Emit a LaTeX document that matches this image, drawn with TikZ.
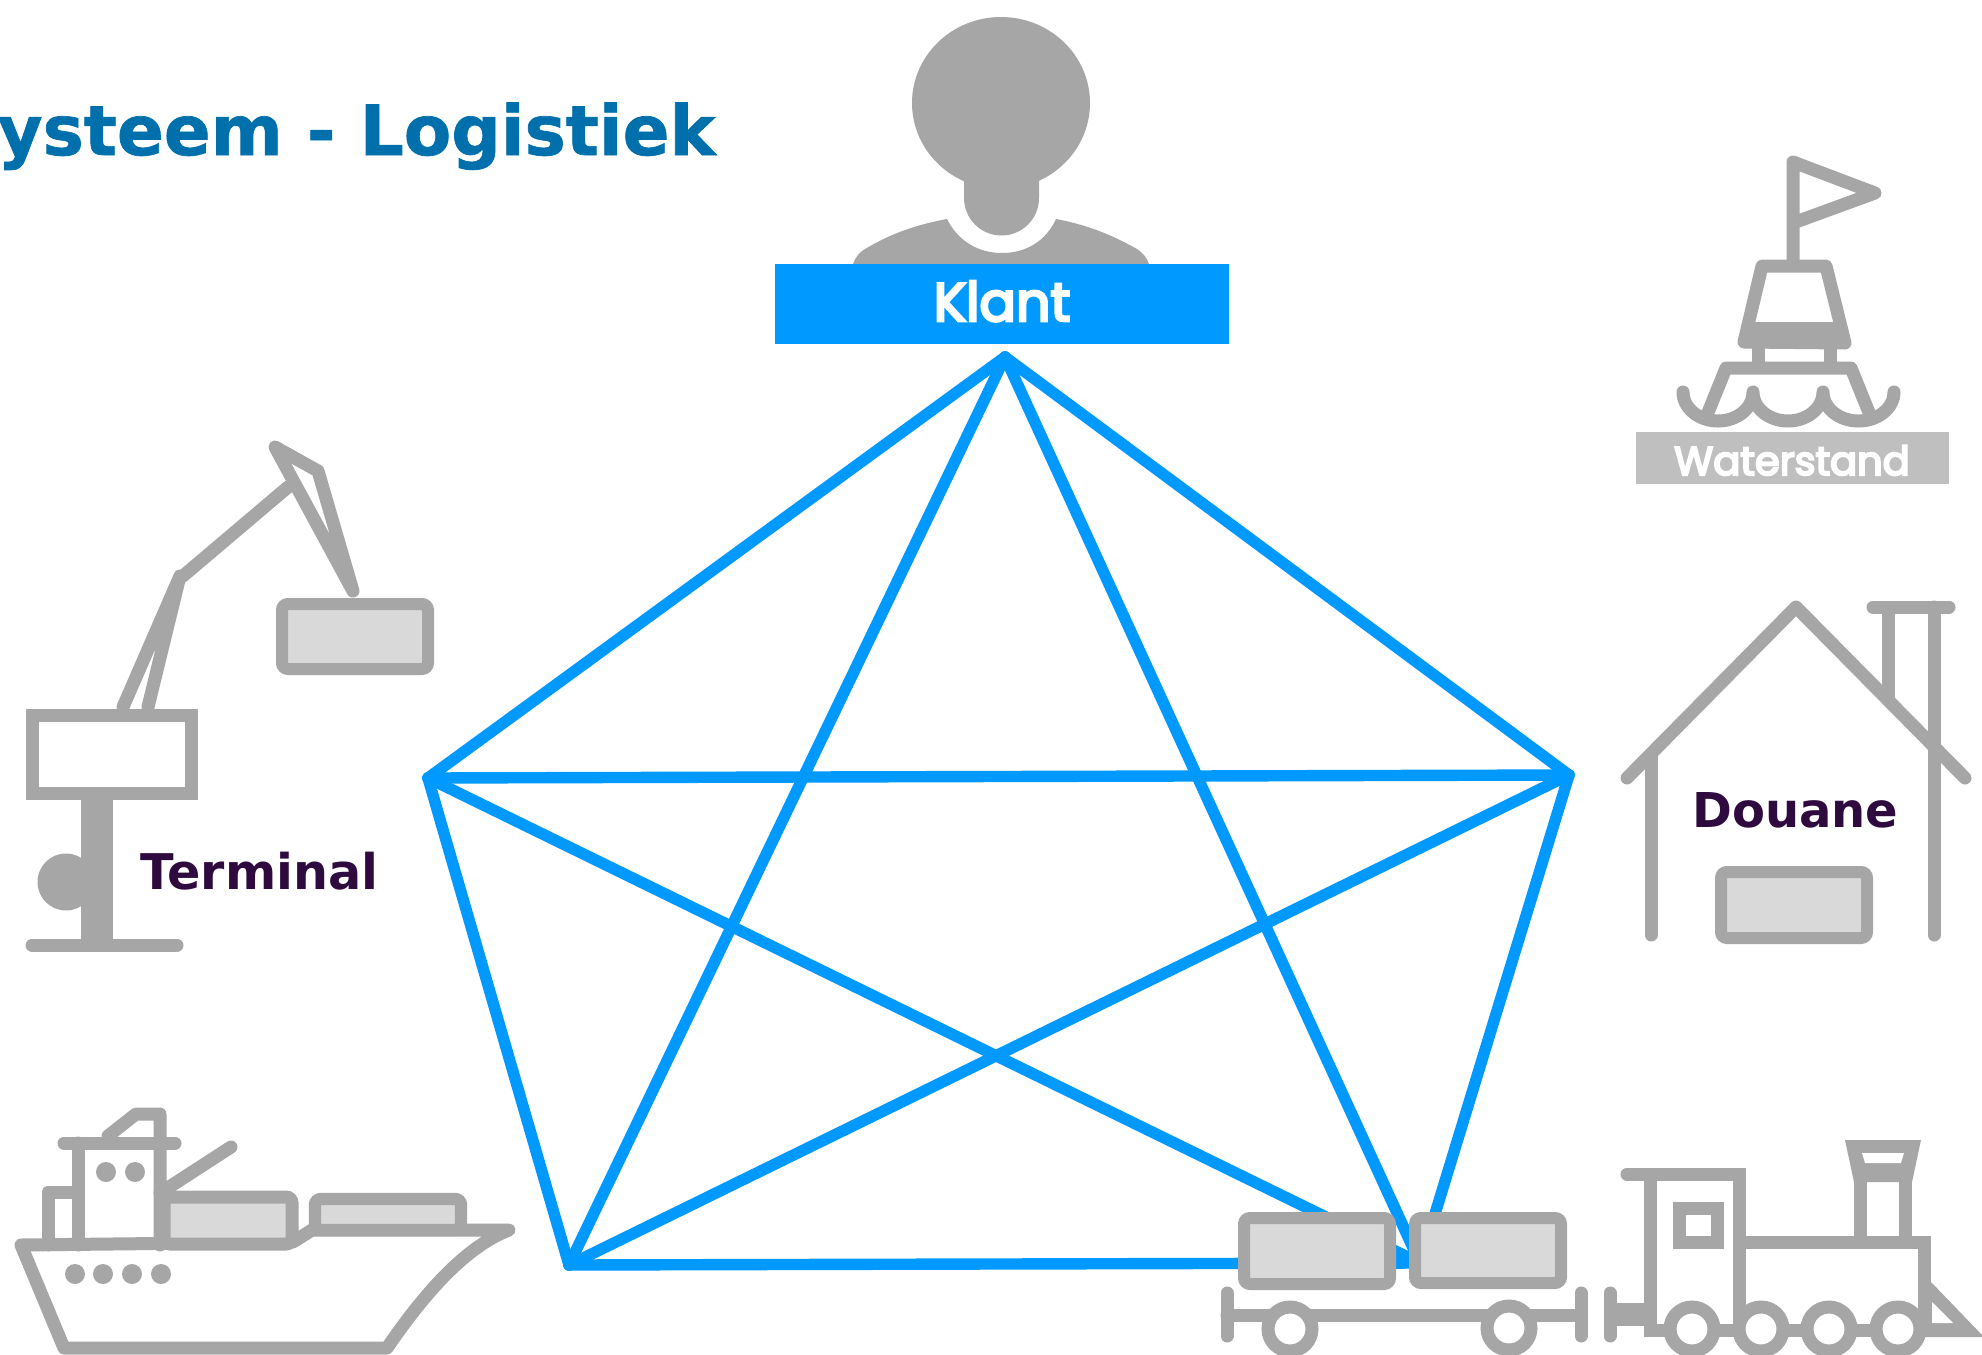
\documentclass[tikz,border=0pt]{standalone}
\usepackage{fontspec}
\setmainfont{DejaVu Sans}
\newfontfamily\labelfont[FakeBold=5]{Poppins}
\newfontfamily\titlefont[BoldFeatures={FakeBold=1}]{DejaVu Sans}
\definecolor{iconGray}{HTML}{A6A6A6}
\definecolor{boxGray}{HTML}{D9D9D9}
\definecolor{linkBlue}{HTML}{0099FF}
\definecolor{titleBlue}{HTML}{0070AC}
\definecolor{darkPurple}{HTML}{2E0A3E}
\definecolor{tagGray}{HTML}{BFBFBF}
\tikzset{
  icon/.style={draw=iconGray,line width=6.5pt,line cap=round,line join=round},
  solidicon/.style={fill=iconGray,draw=none},
  crate/.style={draw=iconGray,fill=boxGray,line width=6pt,rounded corners=3pt},
  link/.style={draw=linkBlue,line width=5.7pt,line cap=round,line join=round},
  wheel/.style={draw=iconGray,fill=white,line width=6.5pt},
  porthole/.style={fill=iconGray,draw=none},
  darklabel/.style={text=darkPurple,inner sep=0pt,anchor=base west},
  tag/.style={inner sep=0pt,text=white},
}
\begin{document}
\begin{tikzpicture}[x=0.5pt,y=-0.5pt]
\path[use as bounding box] (0,0) rectangle (1982,1355);
\clip (0,0) rectangle (1982,1355);
\fill[white] (0,0) rectangle (1982,1355);

% title
\node[text=titleBlue,font=\titlefont\bfseries\fontsize{34.6}{36}\selectfont,inner sep=0pt,anchor=base east] (title) at (716,155) {ysteem - Logistiek};

% person
\fill[solidicon] (1001,103) ellipse [x radius=89,y radius=86];
\fill[solidicon] (964,150) -- (1039,150) -- (1039,198) arc[start angle=0,end angle=180,radius=37.5] -- cycle;
\fill[solidicon] (853,264) .. controls (856,256) and (860,252) .. (865,249) .. controls (890,234) and (915,225) .. (947,219) .. controls (958,241) and (978,253) .. (1002,253) .. controls (1026,253) and (1046,241) .. (1056,219) .. controls (1088,225) and (1112,235) .. (1137,249) .. controls (1143,253) and (1147,258) .. (1149,264) -- cycle;
\node[fill=linkBlue,minimum width=227pt,minimum height=40pt,inner sep=0pt] (klantbox) at (1002,304) {};
\node[tag,font=\labelfont\fontsize{27}{29}\selectfont,anchor=base] (klant) at (1002,321) {Klant};

% links
\coordinate (top) at (1005,357);
\coordinate (lft) at (428,778);
\coordinate (rgt) at (1569,775);
\coordinate (bl) at (569,1265);
\coordinate (br) at (1420,1263);
\foreach \a/\b in {top/lft,top/rgt,top/bl,top/br,lft/rgt,lft/bl,lft/br,rgt/bl,rgt/br,bl/br}
  \draw[link] (\a) -- (\b);

% crane
\draw[icon,fill=white,line join=miter] (32,715) rectangle (191,793);
\fill[solidicon] (81,799) rectangle (113,940);
\fill[solidicon] (66,882) circle (28.5);
\draw[icon] (32,945) -- (177,945);
\draw[icon] (123,707) -- (180,576) -- (148,707);
\draw[icon] (183,576) -- (288,487);
\draw[icon] (275,447) -- (318,471) -- (353,591) -- cycle;
\draw[crate] (282,604) rectangle (428,669);
\node[darklabel,font=\bfseries\fontsize{24.6}{26}\selectfont] (terminal) at (140,889) {Terminal};

% buoy
\draw[icon] (1793,265) -- (1793,162) -- (1875,193) -- (1793,223);
\draw[icon] (1762,266) -- (1826,266) -- (1845,343) -- (1744,342) -- cycle;
\fill[solidicon] (1752,322) rectangle (1838,348);
\draw[icon,line cap=butt] (1758,345) -- (1758,368);
\draw[icon,line cap=butt] (1830,345) -- (1830,368);
\draw[icon] (1707,415) -- (1726,368) -- (1851,368) -- (1870,415);
\draw[icon] (1683,392) arc[start angle=180,end angle=0,x radius=35,y radius=29]
  arc[start angle=180,end angle=0,x radius=35,y radius=29]
  arc[start angle=180,end angle=0,x radius=35.5,y radius=29];
\node[fill=tagGray,minimum width=156.5pt,minimum height=26pt,inner sep=0pt] (waterbox) at (1792.5,458) {};
\node[tag,font=\labelfont\fontsize{20}{22}\selectfont,anchor=base] (waterstand) at (1792,475) {Waterstand};

% customs house
\draw[icon] (1627,778) -- (1796,607) -- (1965,778);
\draw[icon] (1651,755) -- (1651,935);
\draw[icon] (1934,607) -- (1934,935);
\draw[icon] (1873,607) -- (1949,607);
\draw[icon,line cap=butt] (1888,607) -- (1888,698);
\node[darklabel,font=\bfseries\fontsize{24}{26}\selectfont] (douane) at (1692,827) {Douane};
\draw[crate] (1721,872) rectangle (1867,938);

% ship
\draw[icon,fill=white] (21,1245) -- (64,1348) -- (387,1348) .. controls (430,1285) and (470,1245) .. (509,1230) -- (312,1230) -- (293,1242) -- cycle;
\draw[icon] (78,1143) -- (78,1245);
\draw[icon] (160,1245) -- (160,1114) -- (136,1114) -- (108,1136);
\draw[icon] (64,1143) -- (175,1143);
\draw[icon] (48,1245) -- (48,1192) -- (78,1192);
\draw[icon] (160,1193) -- (231,1147);
\fill[porthole] (106,1172) circle (10);
\fill[porthole] (135,1172) circle (10);
\foreach \x in {75,103,132,161} \fill[porthole] (\x,1274) circle (10);
\draw[crate,line width=6.5pt] (164,1197) rectangle (292,1244);
\draw[crate,line width=6.2pt] (315,1199) rectangle (461,1230);

% wagon
\draw[crate] (1244,1218) rectangle (1390,1284);
\draw[crate] (1415,1218) rectangle (1561,1283);
\draw[icon] (1227,1315) -- (1581,1315);
\draw[icon] (1227,1293) -- (1227,1336);
\draw[icon] (1581,1293) -- (1581,1336);
\draw[wheel] (1290,1329) circle (22);
\draw[wheel] (1509,1328) circle (22);

% locomotive
\draw[icon] (1610,1293) -- (1610,1336);
\fill[solidicon] (1610,1303) rectangle (1645,1326);
\fill[solidicon] (1931,1282) -- (1984,1337) -- (1925,1337) -- cycle;
\fill[white] (1932,1302) -- (1953,1323) -- (1932,1323) -- cycle;
\draw[icon,line cap=butt,line join=miter] (1632,1174) -- (1745.5,1174);
\draw[icon] (1627,1174) -- (1640,1174);
\draw[icon,line cap=butt,line join=miter] (1650,1174) -- (1650,1330) -- (1924,1330);
\draw[icon,line cap=butt,line join=miter] (1739,1174) -- (1739,1330);
\draw[icon,line cap=butt,line join=miter] (1739,1242) -- (1924,1242) -- (1924,1330);
\draw[icon,line cap=butt,line join=miter] (1679,1208) rectangle (1717,1242);
\draw[icon,line cap=butt,line join=miter] (1860.5,1170) -- (1860.5,1240);
\draw[icon,line cap=butt,line join=miter] (1905.5,1170) -- (1905.5,1240);
\fill[solidicon] (1845,1140) -- (1921,1140) -- (1912,1182) -- (1854,1182) -- cycle;
\fill[white] (1862,1153) -- (1904,1153) -- (1901,1163) -- (1865,1163) -- cycle;
\foreach \x in {1692,1761,1829,1898} \draw[wheel] (\x,1329) circle (22);
\end{tikzpicture}
\end{document}
